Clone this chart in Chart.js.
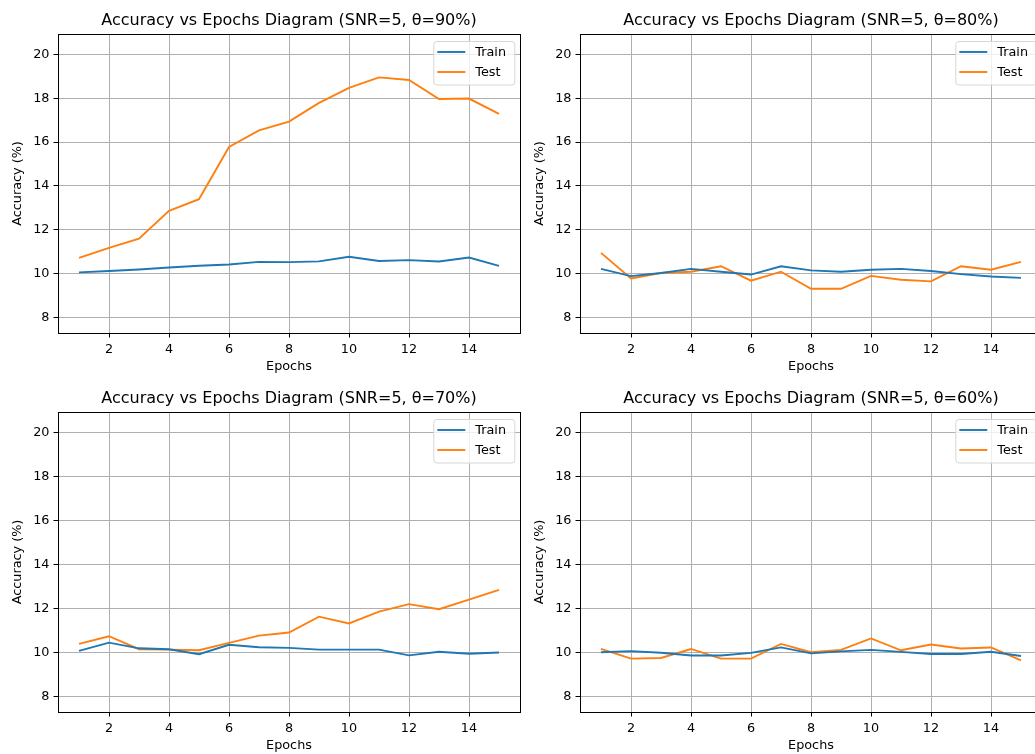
<!DOCTYPE html>
<html>
<head>
<meta charset="utf-8">
<script src="https://cdn.jsdelivr.net/npm/chart.js@4"></script>
<style>
  html, body { margin: 0; padding: 0; background: #fff; }
  body { width: 1035px; height: 754px; position: relative; overflow: hidden; }
  canvas.panel { position: absolute; }
</style>
</head>
<body>
<canvas class="panel" id="p90" width="530" height="377" style="left:0px;top:0px"></canvas>
<canvas class="panel" id="p80" width="530" height="377" style="left:522px;top:0px"></canvas>
<canvas class="panel" id="p70" width="530" height="378" style="left:0px;top:378px"></canvas>
<canvas class="panel" id="p60" width="530" height="378" style="left:522px;top:378px"></canvas>
<script>
// Epoch axis and tick values
const epochs = [1, 2, 3, 4, 5, 6, 7, 8, 9, 10, 11, 12, 13, 14, 15];
const xTickValues = [2, 4, 6, 8, 10, 12, 14];
const yTickValues = [8, 10, 12, 14, 16, 18, 20];
const snr = 5;
const thetas = ['90%', '80%', '70%', '60%'];

// Accuracy (%) per epoch for each threshold θ
const trainAcc90 = [10.05, 10.11, 10.18, 10.27, 10.35, 10.41, 10.53, 10.52, 10.55, 10.76, 10.57, 10.61, 10.55, 10.73, 10.35];
const testAcc90  = [10.71, 11.17, 11.59, 12.86, 13.39, 15.78, 16.54, 16.94, 17.79, 18.48, 18.96, 18.84, 17.97, 17.99, 17.29];

const trainAcc80 = [10.21, 9.88, 10.02, 10.21, 10.08, 9.95, 10.33, 10.14, 10.08, 10.17, 10.21, 10.11, 9.97, 9.86, 9.80];
const testAcc80  = [10.94, 9.77, 10.02, 10.08, 10.33, 9.67, 10.08, 9.30, 9.30, 9.89, 9.71, 9.64, 10.33, 10.17, 10.53];

const trainAcc70 = [10.06, 10.44, 10.18, 10.14, 9.91, 10.34, 10.23, 10.20, 10.12, 10.12, 10.12, 9.86, 10.02, 9.93, 9.99];
const testAcc70  = [10.38, 10.73, 10.14, 10.12, 10.09, 10.43, 10.76, 10.90, 11.62, 11.31, 11.85, 12.19, 11.96, 12.40, 12.84];

const trainAcc60 = [10.00, 10.05, 9.98, 9.85, 9.85, 9.97, 10.22, 9.95, 10.04, 10.11, 10.02, 9.92, 9.92, 10.02, 9.83];
const testAcc60  = [10.15, 9.71, 9.74, 10.15, 9.71, 9.71, 10.38, 10.00, 10.11, 10.63, 10.09, 10.35, 10.17, 10.22, 9.63];

const FONT = "'DejaVu Sans', 'Liberation Sans', sans-serif";
const TRAIN_COLOR = '#1f77b4';
const TEST_COLOR = '#ff7f0e';

// Axes frame (all four spines) drawn over the data
const framePlugin = {
  id: 'frame',
  afterDatasetsDraw(chart) {
    const { ctx, chartArea: a } = chart;
    ctx.save();
    ctx.strokeStyle = '#000';
    ctx.lineWidth = 1;
    ctx.strokeRect(Math.round(a.left) + 0.5, Math.round(a.top) + 0.5,
                   Math.round(a.right - a.left), Math.round(a.bottom - a.top));
    ctx.restore();
  }
};

// Legend box in the upper-right corner of the plot area
const insideLegendPlugin = {
  id: 'insideLegend',
  afterDraw(chart) {
    const { ctx, chartArea: a } = chart;
    const w = 81, h = 43.5;
    const x = a.right - 5.7 - w, y = a.top + 7;
    ctx.save();
    ctx.beginPath();
    if (ctx.roundRect) ctx.roundRect(x + 0.5, y + 0.5, w, h, 3); else ctx.rect(x + 0.5, y + 0.5, w, h);
    ctx.fillStyle = 'rgba(255,255,255,0.8)';
    ctx.fill();
    ctx.strokeStyle = '#d6d6d6';
    ctx.lineWidth = 1;
    ctx.stroke();
    ctx.font = '12.8px ' + FONT;
    ctx.textBaseline = 'middle';
    ctx.fillStyle = '#000';
    chart.data.datasets.forEach((ds, i) => {
      const ly = y + 11 + i * 20;
      ctx.beginPath();
      ctx.moveTo(x + 4, ly);
      ctx.lineTo(x + 32, ly);
      ctx.strokeStyle = ds.borderColor;
      ctx.lineWidth = 1.9;
      ctx.stroke();
      ctx.fillText(ds.label, x + 42, ly + 0.5);
    });
    ctx.restore();
  }
};

function toPoints(values) {
  return epochs.map((e, i) => ({ x: e, y: values[i] }));
}

function makePanel(canvasId, theta, train, test) {
  return new Chart(document.getElementById(canvasId), {
    type: 'line',
    data: {
      datasets: [
        { label: 'Train', data: toPoints(train), borderColor: TRAIN_COLOR, backgroundColor: TRAIN_COLOR,
          borderWidth: 1.9, pointRadius: 0, tension: 0, fill: false },
        { label: 'Test', data: toPoints(test), borderColor: TEST_COLOR, backgroundColor: TEST_COLOR,
          borderWidth: 1.9, pointRadius: 0, tension: 0, fill: false }
      ]
    },
    options: {
      responsive: false,
      animation: false,
      devicePixelRatio: 1,
      events: [],
      layout: { padding: { left: 0, right: 10, top: 0, bottom: 0 } },
      plugins: {
        legend: { display: false },
        tooltip: { enabled: false },
        title: {
          display: true,
          fullSize: false,
          text: 'Accuracy vs Epochs Diagram (SNR=' + snr + ', θ=' + theta + ')',
          color: '#000',
          font: { family: FONT, size: 16, weight: 'normal', lineHeight: 1.2 },
          padding: { top: 10.8, bottom: 4.0 }
        }
      },
      scales: {
        x: {
          type: 'linear',
          min: 0.3,
          max: 15.7,
          afterBuildTicks(scale) { scale.ticks = xTickValues.map(v => ({ value: v })); },
          afterFit(scale) { scale.height = 44; },
          ticks: { color: '#000', font: { family: FONT, size: 12.8 }, padding: 4, maxRotation: 0, autoSkip: false },
          grid: { color: '#b0b0b0', lineWidth: 1, drawTicks: true, tickLength: 4.5, tickColor: '#000', tickWidth: 1 },
          border: { display: false },
          title: { display: true, text: 'Epochs', color: '#000',
                   font: { family: FONT, size: 12.8, lineHeight: 1.2 }, padding: { top: 0, bottom: 2.9 } }
        },
        y: {
          type: 'linear',
          min: 7.28,
          max: 20.94,
          afterBuildTicks(scale) { scale.ticks = yTickValues.map(v => ({ value: v })); },
          afterFit(scale) { scale.width = 58; },
          ticks: { color: '#000', font: { family: FONT, size: 12.8 }, padding: 4, autoSkip: false },
          grid: { color: '#b0b0b0', lineWidth: 1, drawTicks: true, tickLength: 4.5, tickColor: '#000', tickWidth: 1 },
          border: { display: false },
          title: { display: true, text: 'Accuracy (%)', color: '#000',
                   font: { family: FONT, size: 12.8, lineHeight: 1.2 }, padding: { top: 10.3, bottom: 0 } }
        }
      }
    },
    plugins: [framePlugin, insideLegendPlugin]
  });
}

makePanel('p90', thetas[0], trainAcc90, testAcc90);
makePanel('p80', thetas[1], trainAcc80, testAcc80);
makePanel('p70', thetas[2], trainAcc70, testAcc70);
makePanel('p60', thetas[3], trainAcc60, testAcc60);
</script>
</body>
</html>
